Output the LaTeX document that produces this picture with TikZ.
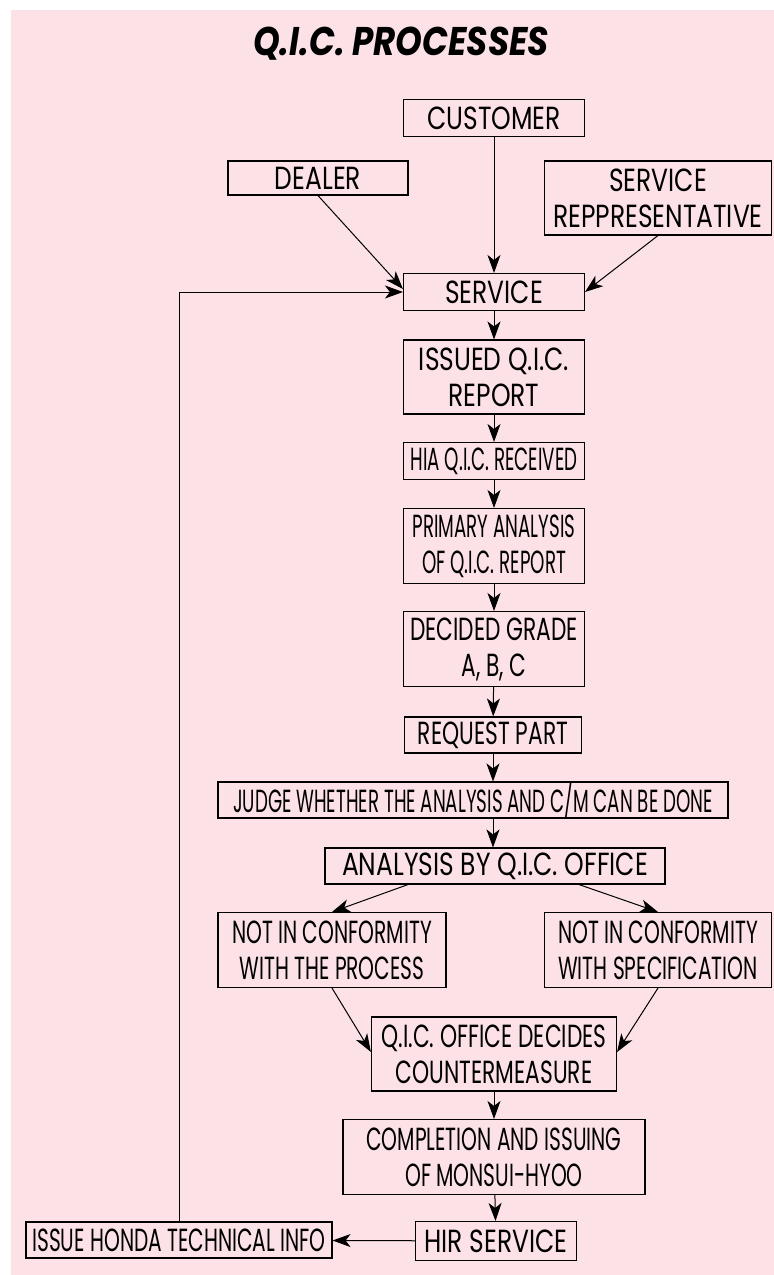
\documentclass[tikz,border=0pt]{standalone}
\usepackage{fontspec}
\setmainfont{Poppins}
\newfontfamily\qicwide[FakeStretch=0.78]{Poppins}
\newfontfamily\qicmid[FakeStretch=0.68]{Poppins}
\newfontfamily\qicnarrow[FakeStretch=0.63]{Poppins}
\newfontfamily\qicxnarrow[FakeStretch=0.57]{Poppins}
\newfontfamily\qictitle[FakeStretch=0.85]{Poppins}
\usetikzlibrary{arrows.meta, calc}
\definecolor{qicpink}{RGB}{252,225,231}

\begin{document}
\begin{tikzpicture}[x=1pt, y=-1pt, >={Stealth[length=18pt, width=13pt, inset=5pt]},
  box/.style={draw, line width=1.1pt, inner sep=0pt, align=center,
    font=\qicwide\fontsize{32}{36}\selectfont},
  mid/.style={font=\qicmid\fontsize{32}{36}\selectfont},
  narrow/.style={font=\qicnarrow\fontsize{32}{36}\selectfont},
  xnarrow/.style={font=\qicxnarrow\fontsize{32}{36}\selectfont},
  link/.style={->, line width=1pt}]
  \useasboundingbox (0,0) rectangle (774,1275);
  \fill[qicpink] (11,10) rectangle (774,1275);

  \node[font=\qictitle\bfseries\itshape\fontsize{40}{44}\selectfont] (title) at (401,44) {Q.I.C. PROCESSES};

  % sources
  \node[box, minimum width=181, minimum height=37] (cust) at (494,118) {CUSTOMER};
  \node[box, minimum width=180, minimum height=34] (dealer) at (318,178) {DEALER};
  \node[box, minimum width=227, minimum height=74] (rep) at (658,198) {SERVICE\\REPPRESENTATIVE};

  % main column
  \node[box, minimum width=181, minimum height=37] (serv) at (494,292) {SERVICE};
  \node[box, minimum width=181, minimum height=74] (issued) at (494,377) {ISSUED Q.I.C.\\REPORT};
  \node[box, xnarrow, minimum width=181, minimum height=37] (hia) at (494,461) {HIA Q.I.C. RECEIVED};
  \node[box, xnarrow, minimum width=181, minimum height=75] (prim) at (494,546) {PRIMARY ANALYSIS\\OF Q.I.C. REPORT};
  \node[box, mid, minimum width=181, minimum height=75] (grade) at (494,649) {DECIDED GRADE\\A, B, C};
  \node[box, mid, minimum width=177, minimum height=36] (req) at (493,735) {REQUEST PART};
  \node[box, xnarrow, minimum width=510, minimum height=36] (judge) at (473,800) {JUDGE WHETHER THE ANALYSIS AND C/M CAN BE DONE};
  \node[box, minimum width=340, minimum height=36] (ana) at (495,866) {ANALYSIS BY Q.I.C. OFFICE};
  \node[box, narrow, minimum width=228, minimum height=75] (proc) at (332,950) {NOT IN CONFORMITY\\WITH THE PROCESS};
  \node[box, narrow, minimum width=227, minimum height=75] (spec) at (658,950) {NOT IN CONFORMITY\\WITH SPECIFICATION};
  \node[box, mid, minimum width=245, minimum height=74] (cm) at (494,1054) {Q.I.C. OFFICE DECIDES\\COUNTERMEASURE};
  \node[box, narrow, minimum width=302, minimum height=75] (monsui) at (494,1157) {COMPLETION AND ISSUING\\OF MONSUI-HYOO};
  \node[box, minimum width=161, minimum height=39] (hir) at (496,1241) {HIR SERVICE};
  \node[box, narrow, minimum width=306, minimum height=36] (honda) at (179,1240) {ISSUE HONDA TECHNICAL INFO};

  % connectors
  \draw[link] (cust) -- (serv);
  \draw[link] (dealer.south) -- ([yshift=3pt]serv.west);
  \draw[link] (rep.south) -- (serv.east);
  \draw[link] (serv) -- (issued);
  \draw[link] (issued) -- (hia);
  \draw[link] (hia) -- (prim);
  \draw[link] (prim) -- (grade);
  \draw[link] (grade) -- (req);
  \draw[link] (req.south) -- (req.south |- judge.north);
  \draw[link] (req.south |- judge.south) -- (ana.north -| req.south);
  \draw[link] ([xshift=-87pt]ana.south) -- (proc.north);
  \draw[link] ([xshift=84pt]ana.south) -- (spec.north);
  \draw[link] (proc.south) -- ([yshift=2pt]cm.west);
  \draw[link] (spec.south) -- ([yshift=2pt]cm.east);
  \draw[link] (cm) -- (monsui);
  \draw[link] (monsui) -- (hir);
  \draw[link] (hir) -- (honda);
  \draw[link] (honda.north) -- (honda.north |- serv.west) -- (serv.west);
\end{tikzpicture}
\end{document}
